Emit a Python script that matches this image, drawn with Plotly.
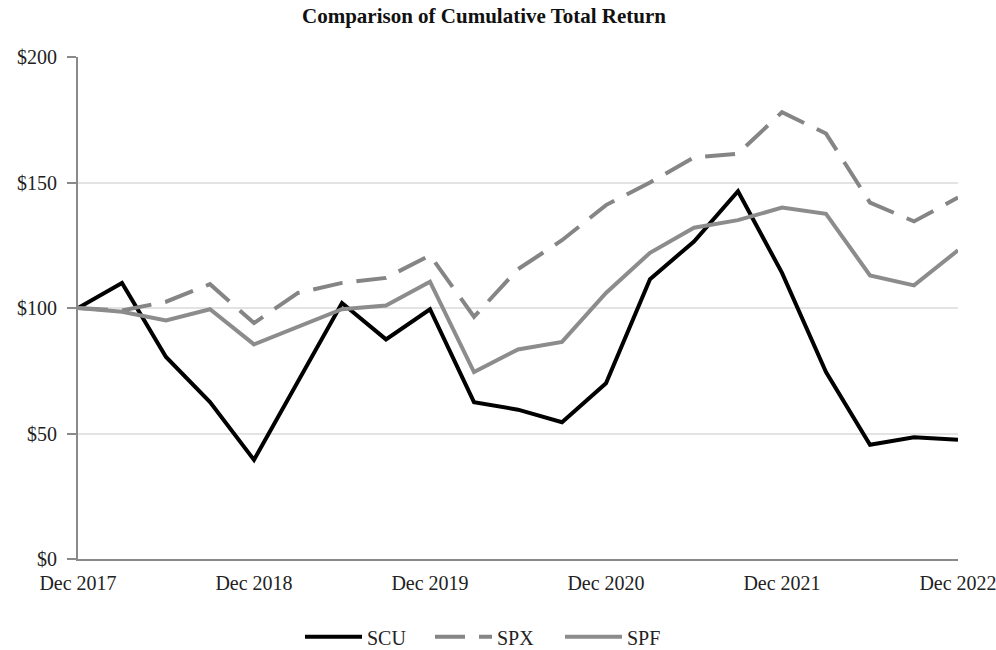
import plotly.graph_objects as go

quarters = [
    "Dec 2017", "Mar 2018", "Jun 2018", "Sep 2018", "Dec 2018",
    "Mar 2019", "Jun 2019", "Sep 2019", "Dec 2019",
    "Mar 2020", "Jun 2020", "Sep 2020", "Dec 2020",
    "Mar 2021", "Jun 2021", "Sep 2021", "Dec 2021",
    "Mar 2022", "Jun 2022", "Sep 2022", "Dec 2022",
]
scu = [100, 110, 80.5, 62.5, 39.5, 71, 102, 87.5, 99.5, 62.5, 59.5, 54.5, 70,
       111.5, 126.5, 146.5, 114, 74.5, 45.5, 48.5, 47.5]
spx = [100, 99, 102.5, 109.5, 94, 106, 110, 112, 121, 96.5, 115.5, 127, 141,
       150, 160, 161.5, 178, 169.5, 142, 134.5, 144]
spf = [100, 98.5, 95, 99.5, 85.5, 92.5, 99.5, 101, 110.5, 74.5, 83.5, 86.5, 106,
       122, 132, 135, 140, 137.5, 113, 109, 123]
tick_labels = ["Dec 2017", "Dec 2018", "Dec 2019", "Dec 2020", "Dec 2021", "Dec 2022"]
y_ticks = [0, 50, 100, 150, 200]

font_family = "Liberation Serif, Times New Roman, serif"

W, H = 996, 650

fig = go.Figure()
fig.add_trace(go.Scatter(x=quarters, y=scu, name="SCU", mode="lines",
                         line=dict(color="#000000", width=4)))
fig.add_trace(go.Scatter(x=quarters, y=spx, name="SPX", mode="lines",
                         line=dict(color="#858585", width=4, dash="30px,14px")))
fig.add_trace(go.Scatter(x=quarters, y=spf, name="SPF", mode="lines",
                         line=dict(color="#8c8c8c", width=4)))

fig.update_layout(
    width=W, height=H,
    margin=dict(l=78, r=38, t=57, b=91, autoexpand=False),
    paper_bgcolor="white", plot_bgcolor="white",
    font=dict(family=font_family, size=20, color="#222222"),
    title=dict(text="<b>Comparison of Cumulative Total Return</b>",
               x=484 / W, xanchor="center", xref="container",
               y=1 - 16 / H, yref="container",
               yanchor="middle", automargin=False,
               font=dict(size=21, color="#111111")),
    showlegend=True,
    legend=dict(orientation="h", x=(300 - 78) / 880, xanchor="left",
                y=-0.155, yanchor="middle",
                font=dict(size=20, color="#222222"), itemwidth=57,
                entrywidth=58, entrywidthmode="pixels",
                traceorder="normal"),
    xaxis=dict(type="category", categoryorder="array", categoryarray=quarters,
               range=[0, len(quarters) - 1], automargin=False,
               tickmode="array", tickvals=tick_labels, ticktext=tick_labels,
               showgrid=False, showline=True, linecolor="#8a8a8a", linewidth=2,
               ticks="", ticklabelstandoff=5, tickfont=dict(size=20), zeroline=False),
    yaxis=dict(range=[0, 200], tickvals=y_ticks, automargin=False,
               ticktext=["$" + str(v) for v in y_ticks],
               showgrid=True, gridcolor="#e3e3e3", gridwidth=1.5,
               showline=True, linecolor="#8a8a8a", linewidth=2,
               ticks="outside", ticklen=9, tickcolor="#8a8a8a", tickwidth=1.5,
               ticklabelstandoff=6,
               tickfont=dict(size=20), zeroline=False),
)

# remove the default 8px page margin so the figure fills the window exactly
fig.write_html("out.html", config={"displayModeBar": False},
               post_script="document.body.style.margin='0';document.body.style.overflow='hidden';")
